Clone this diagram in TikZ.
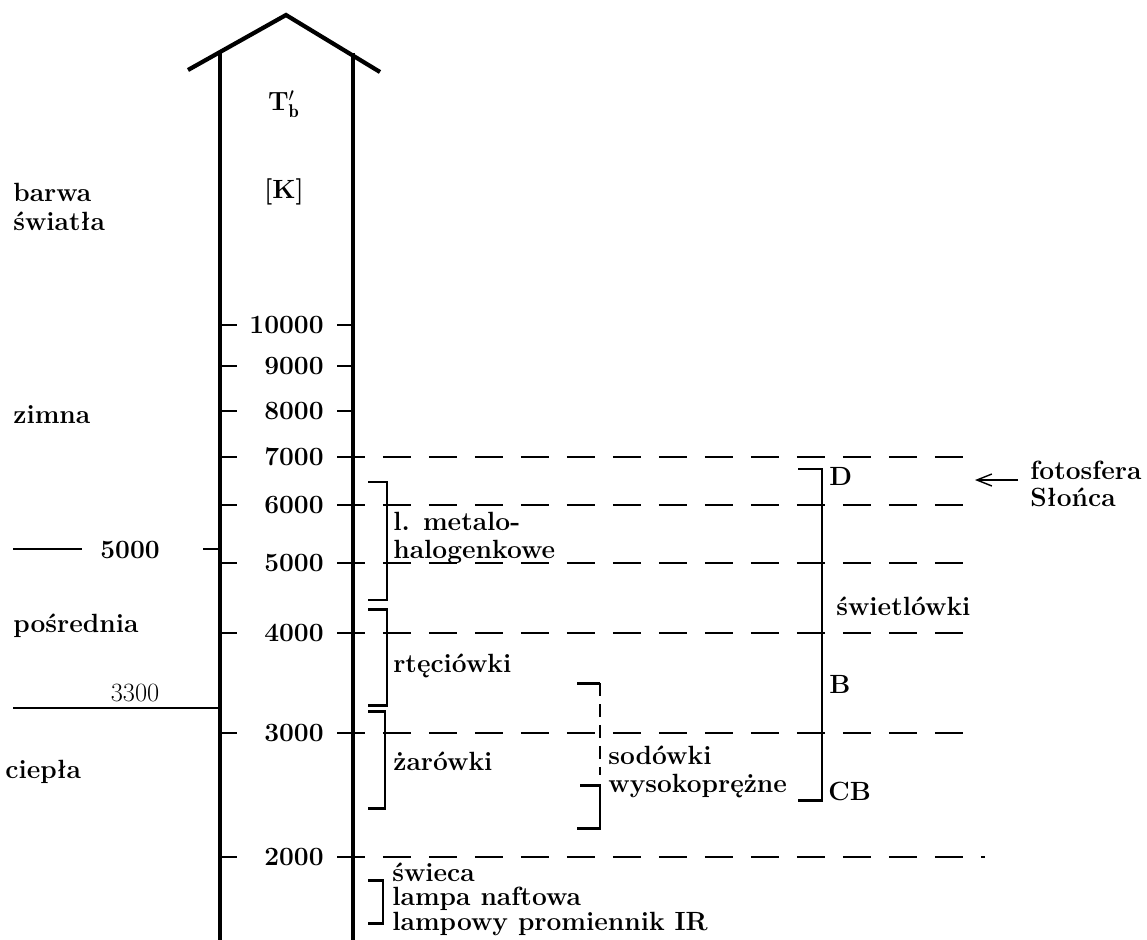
\documentclass[tikz,border=0pt]{standalone}
\usepackage{fontspec}
\usepackage{tikz}
\usetikzlibrary{arrows.meta, calc}
\tikzset{
  axisln/.style = {line width=1.8pt},
  roof/.style   = {line width=2.4pt, line join=miter},
  tck/.style    = {line width=0.9pt},
  grid/.style   = {line width=0.9pt, dash pattern=on 0.56cm off 0.36cm},
  brk/.style    = {line width=1.7pt},
  lbl/.style    = {font=\fontsize{15}{15.5}\selectfont\bfseries, inner sep=0pt,
                   align=left},
  plainlbl/.style = {font=\fontsize{15}{15.5}\selectfont, inner sep=0pt},
  ar/.style     = {line width=0.8pt, -{Straight Barb[length=3mm, width=2.4mm]}},
}

\begin{document}
\begin{tikzpicture}[x=0.02cm, y=-0.02cm]
  \useasboundingbox (0,0) rectangle (1147,940);

  % the temperature axis as a wide arrow
  \coordinate (apex) at (286,15);
  \coordinate (roofl) at (188,70);
  \coordinate (roofr) at (380,72);
  \coordinate (axl) at (220,52);
  \coordinate (axr) at (353,53);
  \draw[roof] (roofl) -- (apex) -- (roofr);
  \draw[axisln] (axl) -- (220,940);
  \draw[axisln] (axr) -- (353,940);
  \node[lbl] (tb) at (284,104) {T$^{\prime}_{\mathbf{b}}$};
  \node[lbl] (unit) at (284,192) {[K]};

  % scale
  \foreach \v/\y in {10000/325, 9000/366, 8000/411, 7000/457, 6000/505,
                     5000/563, 4000/633, 3000/733, 2000/857}{
    \coordinate (tl\v) at (220,\y);
    \coordinate (tr\v) at (353,\y);
    \draw[tck] (tl\v) -- ++(17,0);
    \draw[tck] (tr\v) -- ++(-16,0);
    \node[lbl, anchor=east] (v\v) at (324,\y) {\v};
  }
  \foreach \v/\l in {7000/638, 6000/638, 5000/638, 4000/638, 3000/638, 2000/648}
    \draw[grid] ($(tr\v)+(-16,0)$) -- ($(tr\v)+(-16+\l,0)$);

  % colour of light, left side
  \node[lbl, anchor=west] (barwa) at (13,207) {barwa\\[1pt]światła};
  \node[lbl, anchor=base west] (zimna) at (13,423) {zimna};
  \node[lbl, anchor=base west] (posr) at (13,632) {pośrednia};
  \node[lbl, anchor=base west] (ciepla) at (5,778) {ciepła};

  \coordinate (g5a) at (13,549);
  \coordinate (g5b) at (82,549);
  \coordinate (g5c) at (203,549);
  \draw[tck] (g5a) -- (g5b);
  \draw[tck] (g5c) -- (tl5000 |- g5c);
  \node[lbl, anchor=base] (g5) at (130,558) {5000};
  \coordinate (g33) at (13,708);
  \draw[tck] (g33) -- (220,708);
  \node[plainlbl, anchor=base] (v3300) at (135,701) {3300};

  % lamp ranges
  \draw[brk] (368,482) -- (387,482) -- (387,600) -- (368,600);
  \node[lbl, anchor=west] (metal) at (393,538) {l. metalo-\\halogenkowe};
  \draw[brk] (368,609) -- (387,609) -- (387,705) -- (368,705);
  \node[lbl, anchor=base west] (hg) at (393,672) {rtęciówki};
  \draw[brk] (368,711) -- (385,711) -- (385,808) -- (368,808);
  \node[lbl, anchor=base west] (zar) at (393,770) {żarówki};

  \draw[brk] (577,683) -- (600,683);
  \draw[brk, dash pattern=on 0.26cm off 0.16cm] (600,683) -- (600,775);
  \draw[brk] (580,785) -- (600,785) -- (600,828) -- (577,828);
  \node[lbl, anchor=west] (sod) at (608,772) {sodówki\\wysokoprężne};

  \draw[brk] (798,469) -- (822,469) -- (822,800) -- (798,800);
  \node[lbl, anchor=base west] (d) at (829,485) {D};
  \node[lbl, anchor=base west] (swl) at (836,615) {świetlówki};
  \node[lbl, anchor=base west] (b) at (829,693) {B};
  \node[lbl, anchor=base west] (cb) at (828,800) {CB};

  \node[lbl, anchor=west] (foto) at (1030,484) {fotosfera\\Słońca};
  \coordinate (fs) at (1018,480);
  \draw[ar] (fs) -- (975,480);

  \draw[brk] (368,880) -- (383,880) -- (383,923) -- (368,923);
  \node[lbl, anchor=west, font=\fontsize{15}{14}\selectfont\bfseries]
    (swieca) at (392,899) {świeca\\lampa naftowa\\lampowy promiennik IR};
\end{tikzpicture}
\end{document}
